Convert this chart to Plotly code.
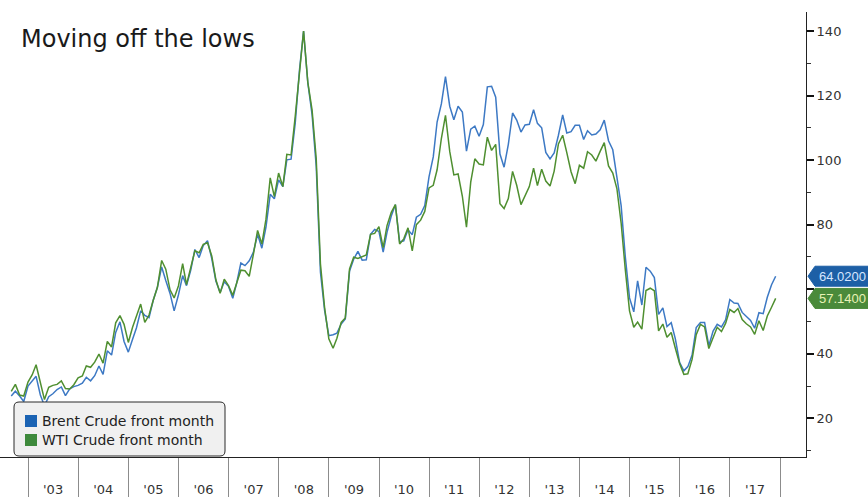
import pandas as pd
import plotly.graph_objects as go

# ---------------- data (month-end values, Aug 2002 .. Nov 2017) ----------------
start_month = "2002-08-31"
end_month = "2017-11-30"

brent = [
    26.9, 28.4, 26.9, 25.2, 30.0,
    31.5, 33.0, 27.2, 23.9, 26.7, 27.6, 28.9, 29.7, 27.0, 29.1, 29.8, 30.2,
    30.9, 32.7, 31.6, 33.2, 36.2, 33.6, 40.9, 39.6, 46.6, 49.9, 43.8, 40.5,
    44.5, 48.0, 53.3, 51.9, 51.2, 56.5, 60.6, 66.9, 62.7, 58.7, 53.3, 58.2,
    64.2, 61.1, 65.9, 72.3, 69.8, 73.5, 75.0, 69.5, 62.5, 59.0, 62.3, 60.9,
    57.2, 61.8, 68.1, 67.3, 68.8, 71.4, 77.0, 72.7, 79.2, 89.4, 88.0, 93.9,
    91.8, 100.1, 100.3, 111.4, 127.8, 140.0, 123.9, 114.1, 98.2, 65.3, 53.5, 45.6,
    45.9, 46.4, 49.2, 50.8, 65.6, 69.3, 71.7, 69.0, 69.1, 77.0, 78.5, 77.9,
    71.5, 77.6, 82.7, 86.2, 74.6, 75.0, 78.4, 76.9, 82.3, 83.2, 85.9, 94.8,
    101.0, 111.8, 117.4, 125.9, 116.7, 112.5, 116.7, 114.9, 102.8, 109.6, 110.5, 107.4,
    111.0, 122.7, 122.9, 119.5, 101.9, 97.8, 104.9, 114.6, 112.4, 108.7, 110.9, 111.1,
    115.6, 111.4, 110.0, 102.4, 100.4, 102.2, 107.7, 114.0, 108.4, 108.8, 110.8, 110.8,
    106.4, 109.1, 107.8, 108.1, 109.4, 112.4, 106.0, 103.2, 94.7, 85.9, 70.2, 57.3,
    53.0, 62.6, 55.1, 66.8, 65.6, 63.6, 52.2, 54.2, 48.4, 49.6, 44.6, 37.3,
    34.7, 36.0, 39.6, 48.1, 49.7, 49.7, 42.5, 47.0, 49.1, 48.3, 50.5, 56.8,
    55.7, 55.6, 52.8, 51.7, 50.3, 47.9, 52.7, 52.4, 57.5, 61.4, 64.02,
]

wti = [
    28.3, 30.5, 27.2, 26.9, 31.2,
    33.5, 36.6, 31.0, 25.8, 29.6, 30.2, 30.5, 31.6, 29.2, 29.1, 30.4, 32.5,
    33.1, 36.2, 35.8, 37.4, 39.9, 37.1, 43.8, 42.1, 49.6, 51.8, 49.1, 43.5,
    48.2, 51.8, 55.4, 49.7, 52.0, 56.5, 60.6, 68.9, 66.2, 59.8, 57.3, 61.0,
    67.9, 61.4, 66.6, 71.9, 71.3, 73.9, 74.4, 70.3, 62.9, 58.7, 63.1, 61.1,
    58.1, 61.8, 65.9, 65.7, 64.0, 70.7, 78.2, 74.0, 81.7, 94.5, 88.7, 96.0,
    91.8, 101.8, 101.6, 113.5, 127.4, 140.0, 124.1, 115.5, 100.6, 67.8, 54.4, 44.6,
    41.7, 44.8, 49.7, 51.1, 66.3, 69.9, 69.5, 70.0, 70.6, 77.0, 77.3, 79.4,
    72.9, 79.7, 83.8, 86.2, 74.0, 75.6, 79.0, 71.9, 80.0, 81.4, 84.1, 91.4,
    92.2, 97.0, 106.7, 113.9, 102.7, 95.4, 95.7, 88.8, 79.2, 93.2, 100.4, 98.8,
    98.5, 107.1, 103.0, 104.9, 86.5, 85.0, 88.1, 96.5, 92.2, 86.2, 88.9, 91.8,
    97.5, 92.1, 97.2, 93.5, 92.0, 96.6, 105.0, 107.7, 102.3, 96.4, 92.7, 98.4,
    97.5, 102.6, 101.6, 99.7, 102.7, 105.4, 98.2, 96.0, 91.2, 80.5, 66.2, 53.3,
    48.2, 49.8, 47.6, 59.6, 60.3, 59.5, 47.1, 49.2, 45.1, 46.6, 41.7, 37.0,
    33.6, 33.8, 38.3, 45.9, 49.1, 48.3, 41.6, 44.7, 48.2, 46.9, 49.4, 53.7,
    52.8, 54.0, 50.6, 49.3, 48.3, 46.0, 50.2, 47.2, 51.7, 54.4, 57.14,
]

years = list(range(2003, 2018))
year_labels = ["'03", "'04", "'05", "'06", "'07", "'08", "'09", "'10",
               "'11", "'12", "'13", "'14", "'15", "'16", "'17"]
series_names = ["Brent Crude front month", "WTI Crude front month"]
last_labels = ["64.0200", "57.1400"]

# ---------------- styling ----------------
FONT = "DejaVu Sans"
TAG_FONT = "Liberation Sans"
line_colors = ["#3d79c4", "#4f8f30"]
legend_colors = ["#1b63b3", "#3e8a3c"]
box_colors = ["#1d5fa6", "#4a8a3a"]
box_text = ["#d6e6ff", "#e8f2b4"]

try:
    dates = pd.date_range(start_month, end_month, freq="ME")
except Exception:
    dates = pd.date_range(start_month, end_month, freq="M")

Y_RANGE = [8.0, 145.9]
X_RANGE = ["2002-06-10", "2018-07-09"]
PLOT_W = 806
PLOT_TOP = 12
PLOT_BOTTOM = 457
PLOT_H = PLOT_BOTTOM - PLOT_TOP
units_per_px = (Y_RANGE[1] - Y_RANGE[0]) / PLOT_H


def px(xp):
    return xp / PLOT_W


def py(yp):
    return (PLOT_BOTTOM - yp) / PLOT_H


fig = go.Figure()
for vals, name, col in zip([brent, wti], series_names, line_colors):
    fig.add_trace(go.Scatter(x=dates, y=vals, mode="lines", name=name,
                             line=dict(color=col, width=1.5), showlegend=False))

sep_vals = [f"{y}-01-01" for y in years] + [f"{years[-1] + 1}-01-01"]
mid_vals = [f"{y}-07-02" for y in years]

shapes = []
annotations = []

# last-value tags
for vals, lab, bc, tc in zip([brent, wti], last_labels, box_colors, box_text):
    v = vals[-1]
    h = 10 * units_per_px
    x_tip = 1 + 2 / PLOT_W
    x_l = 1 + 9 / PLOT_W
    x_r = 1 + 70 / PLOT_W
    path = (f"M {x_tip},{v} L {x_l},{v + h} L {x_r},{v + h} "
            f"L {x_r},{v - h} L {x_l},{v - h} Z")
    shapes.append(dict(type="path", xref="paper", yref="y", path=path,
                       fillcolor=bc, line=dict(color=bc, width=1), layer="above"))
    annotations.append(dict(xref="paper", yref="y", x=1 + 11 / PLOT_W, y=v, text=lab,
                            showarrow=False, xanchor="left", yanchor="middle",
                            font=dict(family=TAG_FONT, size=13, color=tc)))

# legend box (rounded) drawn as a shape, with squares and real text
L, R, T, B, r = 14, 225, 402, 456, 5
lpath = (f"M {px(L + r)},{py(T)} L {px(R - r)},{py(T)} "
         f"Q {px(R)},{py(T)} {px(R)},{py(T + r)} L {px(R)},{py(B - r)} "
         f"Q {px(R)},{py(B)} {px(R - r)},{py(B)} L {px(L + r)},{py(B)} "
         f"Q {px(L)},{py(B)} {px(L)},{py(B - r)} L {px(L)},{py(T + r)} "
         f"Q {px(L)},{py(T)} {px(L + r)},{py(T)} Z")
shapes.append(dict(type="path", xref="paper", yref="paper", path=lpath,
                   fillcolor="#f0f0f0", line=dict(color="#2a2a2a", width=1),
                   layer="above"))
for i, (name, col) in enumerate(zip(series_names, legend_colors)):
    cy = 421 + 19 * i
    shapes.append(dict(type="rect", xref="paper", yref="paper",
                       x0=px(25), x1=px(37), y0=py(cy + 6), y1=py(cy - 6),
                       fillcolor=col, line=dict(width=0), layer="above"))
    annotations.append(dict(xref="paper", yref="paper", x=px(40), y=py(cy),
                            text=name, showarrow=False, xanchor="left",
                            yanchor="middle",
                            font=dict(family=FONT, size=14, color="#222222")))

annotations.append(dict(xref="paper", yref="paper", x=px(19), y=py(39),
                        text="Moving off the lows", showarrow=False,
                        xanchor="left", yanchor="middle",
                        font=dict(family=FONT, size=24, color="#1a1a1a")))

fig.update_layout(
    width=868, height=497,
    margin=dict(l=0, r=868 - PLOT_W, t=PLOT_TOP, b=497 - PLOT_BOTTOM),
    paper_bgcolor="white", plot_bgcolor="white",
    font=dict(family=FONT, size=13, color="#333333"),
    showlegend=False,
    shapes=shapes,
    annotations=annotations,
)

fig.update_xaxes(
    type="date", range=X_RANGE,
    showgrid=False, zeroline=False,
    showline=True, linecolor="#222222", linewidth=1,
    tickmode="array", tickvals=mid_vals, ticktext=year_labels,
    ticks="outside", ticklen=20, tickcolor="rgba(0,0,0,0)",
    tickfont=dict(family=FONT, size=13, color="#333333"),
    minor=dict(tickmode="array", tickvals=sep_vals, ticks="outside",
               ticklen=40, tickwidth=1, tickcolor="#8c8c8c", showgrid=False),
)

fig.update_yaxes(
    side="right", range=Y_RANGE,
    showgrid=False, zeroline=False,
    showline=True, linecolor="#222222", linewidth=1,
    tickmode="array", tickvals=[20, 40, 60, 80, 100, 120, 140],
    ticktext=["20", "40", "", "80", "100", "120", "140"],
    ticks="outside", ticklen=7, tickwidth=2, tickcolor="#111111",
    tickfont=dict(family=FONT, size=13, color="#333333"),
    minor=dict(tickmode="array", tickvals=[10, 30, 50, 70, 90, 110, 130],
               ticks="outside", ticklen=4, tickwidth=1, tickcolor="#333333"),
)

fig.write_html("out.html")
